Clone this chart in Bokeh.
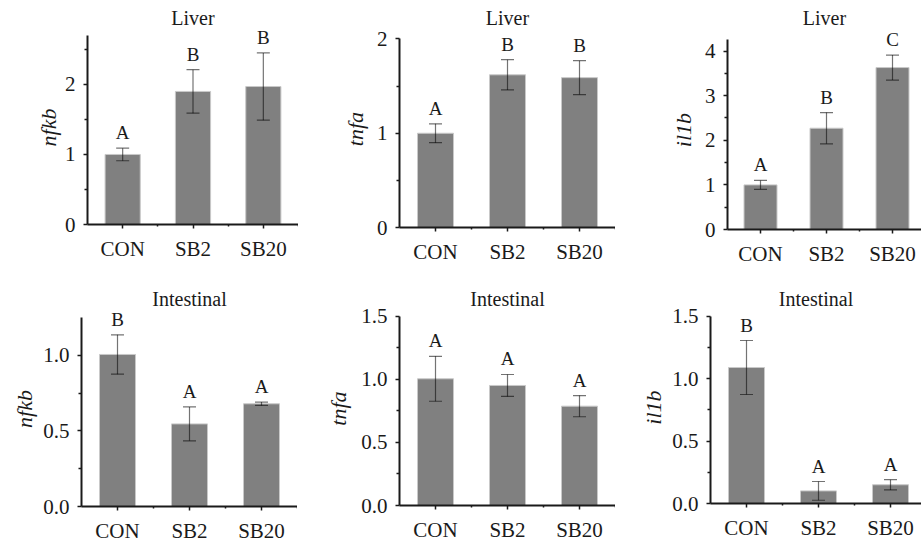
from bokeh.plotting import figure
from bokeh.layouts import column, row
from bokeh.models import ColumnDataSource, Range1d, FixedTicker, Whisker, TeeHead, NumeralTickFormatter
from bokeh.core.properties import value
from bokeh.embed import file_html
from bokeh.resources import INLINE

groups = ["CON", "SB2", "SB20"]

liver_nfkb_mean = [1.00, 1.90, 1.97]
liver_nfkb_sd = [0.09, 0.31, 0.48]
liver_nfkb_sig = ["A", "B", "B"]

liver_tnfa_mean = [1.00, 1.62, 1.59]
liver_tnfa_sd = [0.10, 0.16, 0.18]
liver_tnfa_sig = ["A", "B", "B"]

liver_il1b_mean = [1.00, 2.27, 3.63]
liver_il1b_sd = [0.10, 0.35, 0.28]
liver_il1b_sig = ["A", "B", "C"]

int_nfkb_mean = [1.005, 0.546, 0.679]
int_nfkb_sd = [0.13, 0.112, 0.011]
int_nfkb_sig = ["B", "A", "A"]

int_tnfa_mean = [1.004, 0.951, 0.787]
int_tnfa_sd = [0.178, 0.087, 0.084]
int_tnfa_sig = ["A", "A", "A"]

int_il1b_mean = [1.088, 0.101, 0.150]
int_il1b_sd = [0.216, 0.075, 0.041]
int_il1b_sig = ["B", "A", "A"]

FONT = "Liberation Serif"
AXC = "#1a1a1a"


def panel(title, ylabel, mean, sd, sig, cfg):
    xs = [i + 0.5 for i in range(len(groups))]
    src = ColumnDataSource(dict(
        x=xs, mean=mean,
        upper=[m + s for m, s in zip(mean, sd)],
        lower=[m - s for m, s in zip(mean, sd)],
        sig=sig,
    ))
    p = figure(frame_width=cfg["fw"], frame_height=cfg["fh"],
               x_range=Range1d(0, cfg["xend"]), y_range=Range1d(0, cfg["yend"]),
               output_backend="svg", toolbar_location=None,
               min_border_left=cfg["left"], min_border_right=0,
               min_border_top=30, min_border_bottom=cfg["bottom"],
               title=title)
    p.vbar(x="x", top="mean", width=0.5, source=src,
           fill_color="#808080", line_color="#c9c9c9", line_width=1)
    w = Whisker(base="x", upper="upper", lower="lower", source=src,
                line_color="black", line_alpha=0.55, line_width=1.2, level="overlay",
                upper_head=TeeHead(size=13, line_color="black", line_alpha=0.55, line_width=1.2),
                lower_head=TeeHead(size=13, line_color="black", line_alpha=0.55, line_width=1.2))
    p.add_layout(w)
    p.text(x="x", y="upper", text="sig", source=src, text_align="center",
           text_baseline="bottom", y_offset=-5,
           text_font=value(FONT), text_font_size="19px", text_color=AXC)

    p.title.align = "center"
    p.title.text_font = FONT
    p.title.text_font_style = "normal"
    p.title.text_font_size = "20px"
    p.title.text_color = AXC
    p.title.standoff = 4

    p.xgrid.visible = False
    p.ygrid.visible = False
    p.outline_line_color = None

    for ax in (p.xaxis[0], p.yaxis[0]):
        ax.axis_line_width = 2
        ax.axis_line_color = AXC
        ax.major_tick_line_color = AXC
        ax.minor_tick_line_color = AXC
        ax.major_tick_line_width = 1.5
        ax.minor_tick_line_width = 1.5
        ax.major_tick_in = 0
        ax.minor_tick_in = 0
        ax.major_label_text_font = FONT
        ax.major_label_text_font_size = "21px"
        ax.major_label_text_color = AXC

    xa = p.xaxis[0]
    xa.ticker = FixedTicker(ticks=xs, minor_ticks=[1, 2, 3])
    xa.major_label_overrides = {x: g for x, g in zip(xs, groups)}
    xa.major_tick_out = 4
    xa.minor_tick_out = 2
    xa.major_label_standoff = cfg["xstand"]

    ya = p.yaxis[0]
    ya.ticker = FixedTicker(ticks=cfg["ticks"], minor_ticks=cfg["minor"])
    ya.formatter = NumeralTickFormatter(format=cfg["fmt"])
    ya.bounds = (0, cfg["ybound"])
    ya.major_tick_out = 4
    ya.minor_tick_out = 3
    ya.major_label_standoff = 8
    ya.axis_label = ylabel
    ya.axis_label_text_font = FONT
    ya.axis_label_text_font_style = "italic"
    ya.axis_label_text_font_size = "22px"
    ya.axis_label_text_color = AXC
    ya.axis_label_standoff = cfg["lstand"]
    return p


c1 = dict(left=87, fw=211, xend=3, fh=194, yend=2.77, bottom=57, xstand=8,
          ticks=[0, 1, 2], minor=[0.5, 1.5, 2.5], fmt="0", ybound=2.7, lstand=1)
c2 = dict(left=101, fw=216, xend=3, fh=197, yend=2.09, bottom=54, xstand=8,
          ticks=[0, 1, 2], minor=[0.5, 1.5], fmt="0", ybound=2.0, lstand=6)
c3 = dict(left=112, fw=194, xend=194 / 66, fh=199, yend=4.46, bottom=52, xstand=8,
          ticks=[0, 1, 2, 3, 4], minor=[0.5, 1.5, 2.5, 3.5], fmt="0", ybound=4.25, lstand=6)
c4 = dict(left=81, fw=216, xend=3, fh=195, yend=1.289, bottom=36, xstand=8,
          ticks=[0, 0.5, 1.0], minor=[0.25, 0.75], fmt="0.0", ybound=1.25, lstand=3)
c5 = dict(left=102, fw=216, xend=3, fh=194, yend=1.537, bottom=37, xstand=8,
          ticks=[0, 0.5, 1.0, 1.5], minor=[0.25, 0.75, 1.25], fmt="0.0", ybound=1.5, lstand=7)
c6 = dict(left=95, fw=211, xend=211 / 72, fh=192, yend=1.536, bottom=39, xstand=8,
          ticks=[0, 0.5, 1.0, 1.5], minor=[0.25, 0.75, 1.25], fmt="0.0", ybound=1.5, lstand=3)

p1 = panel("Liver", "nfkb", liver_nfkb_mean, liver_nfkb_sd, liver_nfkb_sig, c1)
p2 = panel("Liver", "tnfa", liver_tnfa_mean, liver_tnfa_sd, liver_tnfa_sig, c2)
p3 = panel("Liver", "il1b", liver_il1b_mean, liver_il1b_sd, liver_il1b_sig, c3)
p4 = panel("Intestinal", "nfkb", int_nfkb_mean, int_nfkb_sd, int_nfkb_sig, c4)
p5 = panel("Intestinal", "tnfa", int_tnfa_mean, int_tnfa_sd, int_tnfa_sig, c5)
p6 = panel("Intestinal", "il1b", int_il1b_mean, int_il1b_sd, int_il1b_sig, c6)

layout = column(row(p1, p2, p3, spacing=0), row(p4, p5, p6, spacing=0), spacing=0)

open("out.html", "w").write(file_html(layout, INLINE))
